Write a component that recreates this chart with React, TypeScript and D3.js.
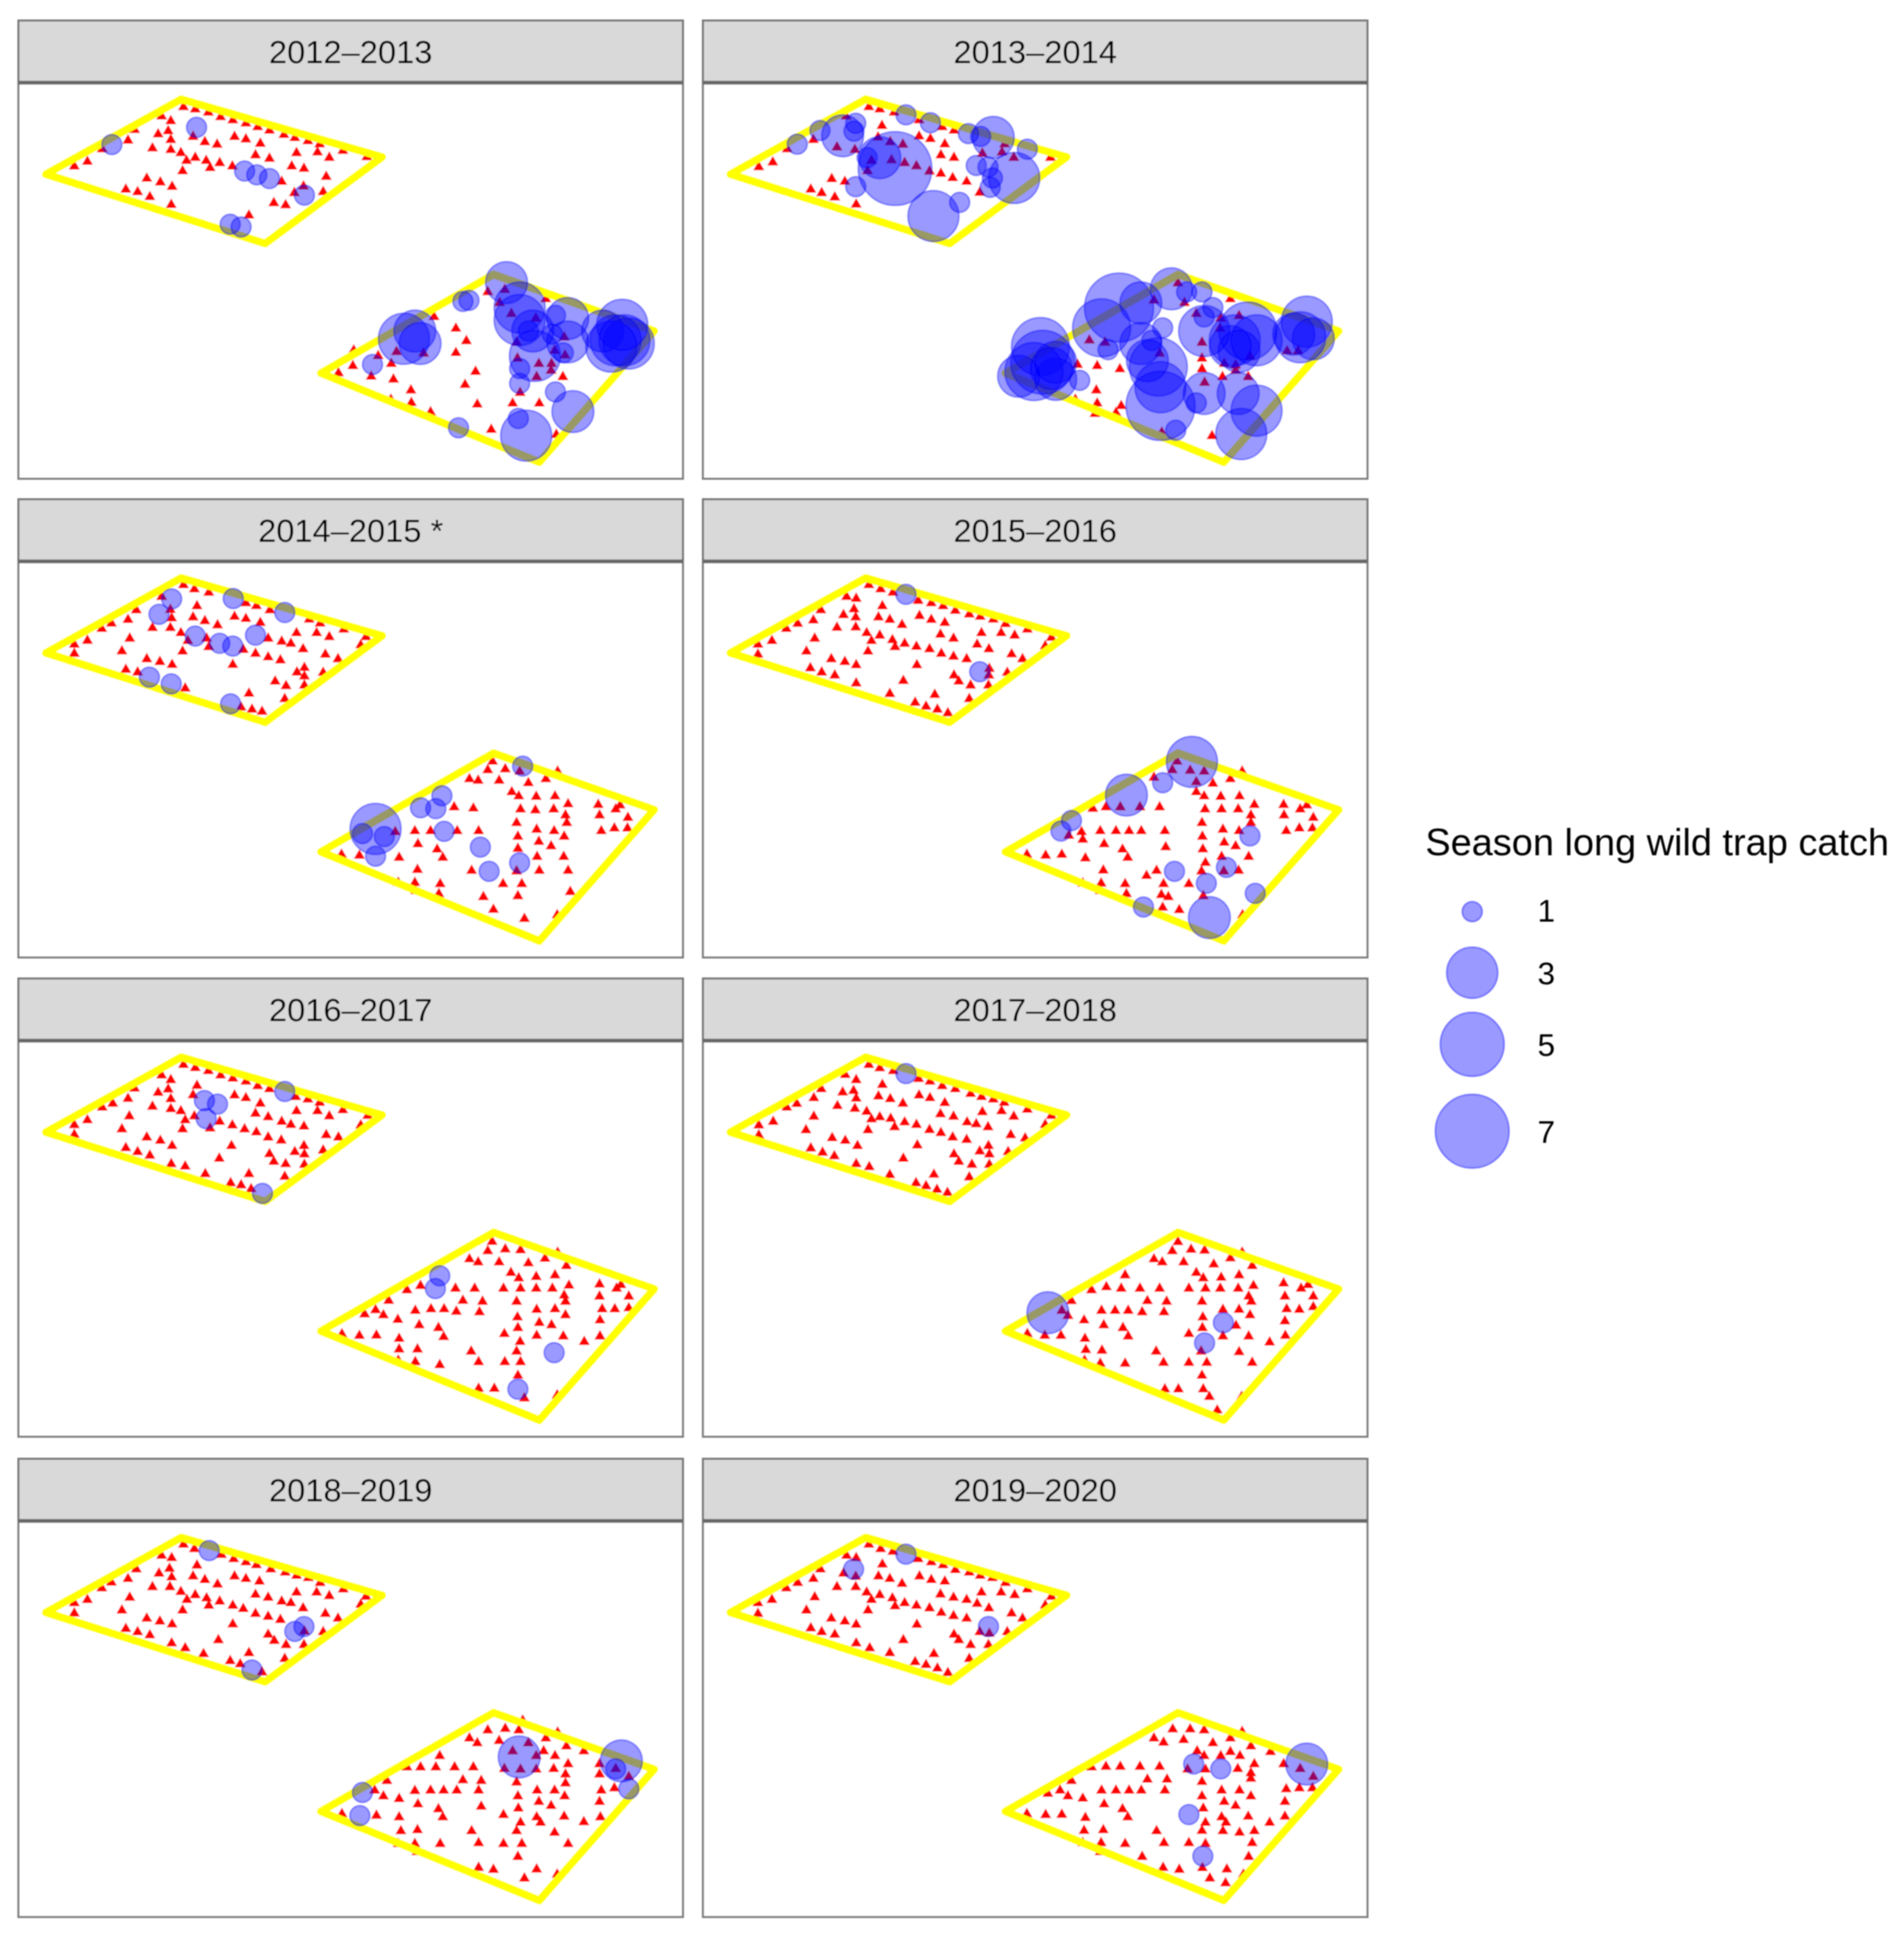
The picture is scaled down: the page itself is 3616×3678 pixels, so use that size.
import * as d3 from "d3";
import * as React from "react";

type Pt = [number, number];
type Catch = [number, number, number];

const seasons = ["2012–2013", "2013–2014", "2014–2015 *", "2015–2016", "2016–2017", "2017–2018", "2018–2019", "2019–2020"];
const legendValues = [1, 3, 5, 7];
const legendTitle = "Season long wild trap catch";

// field outlines, shared by every season
const fieldA: Pt[] = [[415, 318], [875, 503], [607, 780], [105, 558]];
const fieldB: Pt[] = [[735, 1195], [1130, 879], [1498, 1060], [1235, 1480]];

const traps2012: Pt[] = [[420,343],[447,350],[477,360],[505,375],[533,385],[563,395],[590,407],[617,418],[650,432],[675,442],[705,452],[732,462],[785,483],[840,503],[370,373],[391,388],[308,416],[385,420],[362,430],[442,438],[293,450],[391,448],[469,455],[497,463],[537,438],[563,446],[596,460],[234,478],[349,475],[391,480],[414,490],[447,505],[472,515],[503,522],[427,515],[532,533],[585,497],[617,508],[679,490],[727,488],[754,505],[668,533],[696,540],[170,533],[200,518],[418,548],[481,538],[645,582],[747,566],[336,572],[367,584],[394,598],[288,607],[315,615],[343,631],[392,656],[695,597],[674,618],[740,615],[627,650],[654,657],[570,690],
  [1117,935],[1156,928],[1144,970],[1250,958],[994,1015],[1171,1005],[1227,1020],[1044,1052],[1068,1092],[1292,1080],[1183,1097],[908,1127],[866,1140],[970,1132],[1044,1130],[1270,1123],[1294,1138],[810,1122],[1185,1148],[1263,1165],[1234,1165],[896,1165],[808,1172],[1262,1187],[775,1195],[1089,1190],[850,1206],[901,1215],[1229,1207],[1289,1207],[1065,1232],[941,1250],[1191,1258],[895,1280],[942,1290],[1093,1295],[1174,1292],[1235,1292],[986,1320],[1125,1376],[1274,1392]];
const catch2012: Catch[] = [[256,463,1],[450,408,1],[560,548,1],[588,560,1],[617,572,1],[697,625,1],[527,718,1],[552,727,1],
  [1160,905,2],[1190,985,3],[1190,1025,3],[1060,965,1],[1074,962,1],[925,1085,3],[950,1060,2],[962,1100,2],[853,1167,1],[1210,1060,1],[1272,1010,1],[1300,1020,2],[1225,1140,3],[1190,1180,1],[1190,1228,1],[1272,1255,1],[1312,1318,2],[1187,1340,1],[1205,1395,3],[1050,1370,1],[1425,1040,3],[1380,1060,2],[1410,1090,3],[1400,1110,3],[1440,1100,3],[1430,1090,3],[1265,1070,1],[1300,1095,2],[1220,1060,2],[1290,1130,1]];

const traps2013: Pt[] = [[422,343],[447,350],[480,360],[452,403],[537,385],[590,407],[617,418],[295,448],[537,437],[563,445],[596,462],[443,440],[471,455],[500,463],[349,472],[390,480],[235,478],[587,497],[617,505],[682,492],[727,488],[754,505],[733,462],[838,505],[170,535],[202,520],[428,515],[474,513],[504,522],[531,532],[419,548],[561,549],[587,556],[614,570],[646,582],[337,573],[367,582],[289,607],[314,618],[344,632],[393,655],[676,617],[370,373],
  [1130,907],[1075,962],[1145,970],[1250,958],[1172,1005],[1228,1020],[1270,1012],[1226,1052],[1185,1097],[927,1090],[963,1097],[1088,1132],[1185,1148],[1295,1142],[1380,1125],[1405,1125],[900,1168],[945,1172],[997,1182],[1236,1165],[1262,1170],[1185,1182],[1262,1187],[1232,1207],[1291,1207],[1191,1225],[943,1250],[895,1280],[945,1292],[1000,1300],[940,1325],[988,1322],[1208,1396],[1093,1385]];
const catch2013: Catch[] = [[258,462,1],[310,418,1],[362,435,2],[392,395,1],[388,420,1],[507,368,1],[563,393,1],[650,428,1],[678,437,1],[707,440,2],[785,478,1],[447,505,2],[418,505,1],[482,540,7],[392,598,1],[570,692,3],[630,648,1],[668,530,1],[695,535,1],[755,570,3],[705,570,1],[700,600,1],
  [995,985,6],[955,1050,4],[1045,970,2],[1115,925,2],[1150,935,1],[1185,935,1],[1095,1050,1],[1045,1100,2],[1070,1090,1],[1085,1175,4],[1060,1155,2],[970,1120,1],[1090,1240,3],[1090,1300,6],[1125,1378,1],[1172,1290,1],[1190,1260,2],[1268,1260,2],[1310,1315,3],[1275,1390,3],
  [1190,1060,3],[1190,1015,1],[1210,985,1],[1290,1060,4],[1260,1090,3],[1310,1090,3],[1250,1110,2],[1270,1125,2],[1425,1030,3],[1410,1080,3],[1395,1070,2],[1440,1085,2],
  [815,1110,4],[820,1160,5],[800,1190,4],[850,1160,2],[850,1215,2],[765,1205,2],[905,1218,1],[840,1180,2]];

const traps2014: Pt[] = [[420,333],[445,347],[478,358],[563,393],[587,402],[618,416],[370,372],[312,416],[390,415],[451,403],[293,448],[393,443],[442,440],[537,438],[563,445],[596,458],[255,460],[233,478],[349,475],[390,475],[469,452],[498,466],[708,447],[733,460],[787,480],[414,492],[679,492],[725,492],[754,505],[838,505],[297,510],[200,517],[430,518],[473,510],[478,538],[170,530],[170,560],[279,552],[418,553],[614,510],[645,520],[666,527],[694,545],[557,547],[585,560],[614,572],[642,582],[745,563],[774,578],[826,532],[336,578],[366,587],[394,597],[533,597],[288,613],[315,622],[697,607],[680,622],[697,635],[740,623],[630,652],[655,667],[697,665],[424,675],[570,692],[652,710],[552,738],[577,745],[600,752],
  [1128,917],[1117,945],[1157,942],[1190,950],[1277,950],[1075,975],[1095,980],[1143,980],[1210,988],[1250,975],[1172,1018],[1188,1032],[1228,1033],[1271,1032],[1040,1068],[1084,1072],[1192,1075],[1226,1078],[1268,1075],[1301,1058],[1370,1060],[1410,1075],[1420,1062],[1295,1095],[1373,1095],[1438,1103],[1183,1120],[1298,1120],[950,1147],[986,1147],[1047,1147],[1096,1147],[1229,1142],[1269,1147],[1377,1147],[1407,1138],[1437,1138],[905,1150],[1186,1165],[1292,1165],[1234,1182],[957,1190],[1001,1208],[1262,1197],[1186,1205],[914,1235],[1014,1235],[1230,1232],[1291,1232],[782,1225],[823,1228],[956,1275],[1080,1278],[1183,1280],[1235,1278],[1301,1278],[912,1318],[950,1318],[1008,1322],[1152,1322],[1195,1322],[952,1345],[1005,1355],[1107,1365],[1186,1362],[1306,1348],[1130,1407],[1201,1437],[1276,1425]];
const catch2014: Catch[] = [[393,379,1],[364,430,1],[534,378,1],[652,424,1],[447,502,1],[503,526,1],[533,535,1],[585,499,1],[342,638,1],[392,660,1],[528,726,1],
  [1197,932,1],[1012,1030,1],[963,1070,1],[998,1073,1],[860,1140,3],[830,1155,1],[880,1165,1],[860,1230,1],[1017,1148,1],[1100,1200,1],[1120,1280,1],[1190,1252,1]];

const traps2015: Pt[] = [[422,333],[449,347],[477,358],[535,385],[565,393],[592,403],[620,418],[652,430],[677,438],[707,447],[735,462],[785,480],[840,507],[371,372],[393,378],[453,403],[312,416],[388,413],[364,432],[392,440],[538,435],[444,440],[470,448],[295,450],[565,448],[596,458],[259,461],[498,465],[233,478],[349,474],[392,473],[417,492],[447,500],[586,497],[616,510],[680,492],[725,492],[756,500],[298,510],[200,518],[428,518],[476,515],[504,527],[482,538],[531,537],[168,530],[670,530],[697,545],[826,535],[279,553],[420,553],[561,545],[588,560],[616,570],[646,578],[749,562],[774,578],[168,563],[336,578],[367,587],[393,598],[532,598],[288,608],[314,622],[344,632],[698,610],[617,632],[628,652],[739,623],[697,632],[393,658],[501,650],[655,665],[696,665],[470,693],[573,696],[652,710],[528,722],[553,735],[579,745],[603,757],
  [1128,917],[1117,945],[1158,947],[1190,950],[1277,950],[1075,970],[1250,975],[1172,985],[1210,990],[1172,1018],[1190,1032],[1228,1033],[1271,1032],[1088,1068],[1192,1075],[1230,1075],[1268,1075],[1305,1060],[1372,1060],[1410,1075],[1425,1062],[965,1068],[998,1068],[1043,1068],[935,1073],[1297,1095],[1373,1095],[1440,1103],[1185,1120],[1297,1120],[952,1147],[988,1147],[1018,1147],[1046,1147],[1100,1147],[909,1150],[1233,1142],[1270,1147],[1378,1147],[1408,1138],[1438,1138],[880,1162],[912,1175],[1186,1165],[1236,1185],[1262,1197],[961,1190],[1003,1208],[1102,1200],[1187,1207],[784,1225],[827,1228],[864,1225],[918,1237],[1015,1235],[1230,1232],[1292,1232],[1193,1252],[959,1277],[1081,1278],[1058,1295],[1184,1280],[1235,1280],[1269,1278],[912,1320],[954,1320],[1009,1322],[1097,1322],[1155,1322],[952,1345],[1012,1355],[1188,1362],[1092,1358],[1108,1365],[1095,1400],[1133,1408],[1278,1425]];
const catch2015: Catch[] = [[507,364,1],[676,620,1],
  [1162,918,3],[1095,987,1],[1012,1028,2],[886,1112,1],[862,1147,1],[1295,1163,1],[1241,1267,1],[1122,1280,1],[1195,1320,1],[1307,1353,1],[1051,1398,1],[1202,1433,2]];

const traps2016: Pt[] = [[420,352],[447,362],[477,372],[505,387],[533,397],[563,407],[590,422],[617,432],[677,458],[705,466],[732,477],[785,502],[842,520],[370,387],[391,402],[308,430],[385,433],[362,444],[451,421],[442,452],[537,453],[563,462],[596,480],[258,480],[234,493],[293,464],[391,465],[349,490],[391,498],[414,505],[585,513],[614,525],[679,505],[727,505],[754,522],[296,522],[200,535],[445,522],[424,535],[503,540],[481,562],[532,552],[645,540],[666,550],[696,556],[170,551],[826,552],[279,565],[418,565],[560,565],[587,575],[614,592],[644,602],[747,584],[775,592],[170,583],[336,592],[367,603],[394,620],[530,620],[288,627],[315,640],[343,652],[696,620],[675,640],[697,648],[617,647],[740,635],[627,672],[654,680],[392,680],[424,688],[697,682],[502,662],[470,713],[570,713],[652,722],[528,743],[552,750],[575,763],
  [1127,937],[1117,968],[1157,962],[1192,965],[1277,973],[1075,995],[1095,1005],[1143,1005],[1248,993],[1210,1008],[1297,1017],[1170,1040],[1188,1058],[1228,1053],[1271,1048],[963,1083],[932,1097],[1043,1092],[1087,1092],[1153,1092],[1192,1092],[1228,1092],[1265,1092],[1303,1082],[1373,1078],[1412,1092],[1422,1080],[890,1132],[1292,1115],[1373,1118],[1440,1118],[1060,1132],[1105,1135],[1183,1135],[1295,1135],[860,1163],[835,1177],[878,1180],[951,1165],[987,1160],[1017,1160],[1045,1168],[1098,1170],[1229,1162],[1271,1160],[1379,1160],[1408,1160],[1440,1157],[911,1195],[1185,1187],[1295,1180],[1374,1197],[960,1213],[1004,1222],[1235,1205],[1263,1213],[1186,1222],[783,1243],[823,1248],[862,1247],[914,1258],[1016,1252],[1155,1242],[1229,1248],[1290,1250],[1338,1268],[1374,1250],[1191,1268],[914,1293],[956,1293],[1079,1300],[1183,1300],[951,1335],[1007,1345],[1096,1335],[1156,1335],[1192,1335],[912,1330],[1186,1380],[1096,1423],[1132,1423],[1201,1455],[1276,1445]];
const catch2016: Catch[] = [[652,440,1],[468,470,1],[498,482,1],[472,530,1],[601,777,1],
  [1007,1050,1],[997,1092,1],[1269,1304,1],[1186,1425,1]];

const traps2017: Pt[] = [[422,352],[447,363],[478,372],[536,398],[562,407],[590,422],[620,432],[655,448],[680,458],[707,466],[732,477],[785,500],[840,520],[368,385],[393,402],[313,432],[387,438],[362,443],[453,418],[296,462],[444,456],[393,463],[471,465],[537,453],[562,462],[596,478],[257,481],[234,493],[350,488],[390,497],[500,480],[417,507],[447,525],[472,530],[586,515],[616,523],[682,508],[726,505],[754,523],[296,523],[203,540],[428,532],[504,542],[481,558],[531,550],[647,542],[668,548],[695,558],[170,552],[826,550],[278,568],[420,568],[561,567],[587,577],[614,592],[646,600],[747,584],[780,595],[170,585],[338,594],[368,603],[396,620],[533,618],[289,628],[316,642],[343,654],[696,620],[676,638],[698,648],[617,648],[741,640],[628,672],[658,682],[393,680],[423,690],[698,682],[501,662],[470,716],[571,715],[652,724],[530,743],[553,753],[578,765],[602,775],
  [1130,938],[1117,968],[1160,963],[1191,966],[1277,973],[1075,995],[1094,1005],[1143,1005],[1250,992],[1212,1012],[1300,1017],[1009,1048],[1172,1040],[1188,1058],[1229,1056],[1270,1048],[966,1087],[932,1097],[1000,1092],[1043,1092],[1088,1092],[1155,1092],[1193,1092],[1227,1092],[1268,1092],[1303,1083],[1372,1075],[1412,1092],[1428,1080],[886,1133],[1292,1118],[1375,1118],[1440,1118],[1060,1133],[1104,1135],[1185,1135],[1298,1135],[955,1165],[986,1165],[1016,1165],[1048,1170],[1098,1170],[864,1165],[1233,1162],[1270,1162],[1379,1160],[1408,1162],[1440,1153],[878,1182],[915,1197],[1187,1187],[1295,1180],[1375,1200],[960,1213],[1004,1222],[1263,1215],[1186,1222],[785,1242],[825,1248],[862,1248],[917,1258],[1016,1250],[1155,1242],[1233,1250],[1292,1250],[1340,1270],[1376,1248],[919,1295],[956,1297],[1080,1300],[1183,1300],[1270,1302],[916,1330],[952,1340],[1009,1340],[1097,1337],[1155,1337],[1196,1337],[1300,1337],[1185,1380],[1100,1425],[1131,1425],[1188,1425],[1202,1450],[1220,1495],[1276,1450]];
const catch2017: Catch[] = [[507,381,1],[832,1172,2],[1234,1205,1],[1191,1272,1]];

const traps2018: Pt[] = [[420,348],[445,362],[507,380],[535,393],[563,403],[587,412],[620,425],[653,435],[679,445],[706,452],[733,467],[786,487],[838,510],[370,383],[393,390],[451,413],[312,425],[388,423],[364,438],[393,450],[442,447],[537,447],[563,455],[469,458],[293,455],[594,463],[498,472],[255,466],[233,484],[349,480],[389,480],[414,495],[447,505],[585,504],[614,513],[679,497],[725,497],[754,508],[297,513],[200,520],[428,520],[473,515],[503,525],[478,538],[533,538],[645,525],[666,530],[694,546],[170,530],[826,535],[279,553],[418,553],[557,548],[585,563],[614,572],[642,582],[745,563],[774,578],[170,562],[336,578],[366,587],[394,596],[533,596],[288,610],[315,620],[343,630],[697,618],[614,628],[628,647],[740,620],[393,655],[500,645],[655,660],[696,660],[424,670],[466,688],[570,685],[652,703],[527,710],[550,720],[600,745],
  [1117,925],[1157,920],[1188,925],[1197,895],[1277,932],[1075,950],[1093,965],[1143,958],[1250,950],[1210,965],[1297,975],[1337,990],[1174,990],[1007,1005],[1228,1005],[1271,1005],[1301,1030],[1245,990],[963,1040],[932,1040],[998,1040],[1041,1040],[1084,1040],[1155,1045],[1192,1047],[1228,1047],[1268,1045],[1373,1030],[1410,1045],[1440,1070],[886,1082],[1060,1080],[1102,1082],[1183,1087],[1295,1062],[1295,1090],[1373,1062],[858,1112],[878,1130],[950,1113],[986,1112],[1016,1112],[1046,1112],[1096,1112],[1230,1112],[1270,1112],[1377,1112],[1407,1105],[914,1138],[1186,1130],[1293,1130],[1234,1147],[1262,1160],[1373,1147],[957,1155],[1102,1162],[1187,1168],[1004,1170],[783,1185],[862,1190],[914,1195],[1014,1195],[1153,1188],[1229,1195],[1292,1193],[1337,1210],[1375,1195],[1192,1212],[1238,1212],[918,1238],[956,1235],[1080,1238],[1183,1238],[1270,1243],[912,1278],[950,1278],[1008,1278],[1096,1275],[1153,1278],[1195,1278],[1301,1278],[955,1303],[1186,1318],[1096,1352],[1130,1358],[1229,1357],[1201,1385],[1276,1373]];
const catch2018: Catch[] = [[479,367,1],[696,603,1],[675,618,1],[577,738,1],
  [1189,1008,2],[1423,1020,2],[1410,1045,1],[1440,1107,1],[830,1118,1],[824,1190,1]];

const traps2019: Pt[] = [[422,348],[449,362],[477,370],[535,393],[565,403],[592,412],[620,427],[652,435],[677,445],[705,452],[735,467],[785,487],[840,510],[371,383],[393,390],[453,410],[311,425],[364,438],[392,448],[538,447],[444,447],[470,455],[295,455],[565,458],[596,463],[259,467],[498,470],[233,484],[349,480],[392,480],[417,497],[447,505],[586,503],[616,513],[680,497],[725,497],[756,505],[298,512],[200,520],[428,520],[476,515],[504,530],[482,540],[531,538],[168,530],[646,520],[670,532],[697,546],[826,537],[279,553],[420,553],[561,546],[588,560],[616,570],[646,578],[749,562],[774,578],[168,563],[336,578],[367,587],[393,597],[532,597],[289,608],[314,620],[344,628],[676,620],[698,625],[617,628],[628,645],[739,620],[393,655],[501,645],[655,660],[696,660],[424,670],[470,685],[571,688],[652,703],[528,713],[553,722],[579,733],[603,747],
  [1118,922],[1158,922],[1190,925],[1277,930],[1075,950],[1097,963],[1143,955],[1250,950],[1210,965],[1297,975],[1342,992],[1174,990],[1190,1005],[1228,1005],[1250,992],[1272,1005],[1305,1030],[965,1038],[998,1038],[1043,1038],[932,1040],[1088,1038],[1152,1047],[1193,1047],[1267,1045],[1372,1030],[1410,1045],[1440,1070],[886,1082],[1060,1078],[1105,1078],[1185,1085],[1297,1075],[1297,1058],[860,1112],[832,1122],[878,1130],[955,1112],[988,1112],[1018,1112],[1046,1112],[1100,1112],[1230,1112],[1271,1112],[1378,1108],[1408,1105],[1438,1105],[912,1137],[1185,1130],[1297,1130],[1375,1147],[1236,1147],[1262,1160],[961,1155],[1188,1168],[1003,1170],[784,1185],[827,1188],[864,1187],[918,1197],[1015,1195],[1230,1195],[1291,1193],[1340,1212],[1375,1193],[1193,1212],[1240,1212],[915,1237],[959,1235],[1081,1238],[1185,1237],[1233,1238],[1271,1243],[1305,1238],[912,1275],[954,1275],[1009,1278],[1098,1275],[1155,1275],[1193,1278],[1300,1275],[952,1303],[1048,1318],[1292,1318],[1186,1353],[1096,1352],[1133,1358],[1242,1357],[1203,1385],[1239,1400],[1280,1373]];
const catch2019: Catch[] = [[507,378,1],[387,425,1],[696,603,1],
  [1166,1030,1],[1228,1045,1],[1155,1187,1],[1187,1316,1],[1425,1030,2]];

const allTraps = [traps2012, traps2013, traps2014, traps2015, traps2016, traps2017, traps2018, traps2019];
const allCatch = [catch2012, catch2013, catch2014, catch2015, catch2016, catch2017, catch2018, catch2019];

// the readings of each row of panels run over their own extent
const rowExtents: Pt[] = [[265, 1533], [255, 1565], [272, 1582], [275, 1505]];
const outlineExtent: Pt = [265, 1533];

const WIDTH = 3616;
const HEIGHT = 3678;
const panelW = 1262;
const panelH = 752;
const stripH = 118;
const colLeft = [35, 1335];
const rowTop = [157, 1066, 1976, 2888];
const font = "'Liberation Sans', Arial, sans-serif";

const x = d3.scaleLinear().domain([42, 1564]).range([0, panelW]);
const outlineY = d3.scaleLinear().domain(outlineExtent).range([0, panelH]);
// ggplot style size scale: area grows from the smallest value
const radius = d3.scaleSqrt().domain([0, 6]).range([19, 70]);
const triangle = d3.symbol().type(d3.symbolTriangle).size(190)() as string;
const outline = d3
  .line<Pt>()
  .x((d) => x(d[0]))
  .y((d) => outlineY(d[1]))
  .curve(d3.curveLinearClosed);

const Bubble = (props: { cx: number; cy: number; n: number }) => (
  <circle
    cx={props.cx}
    cy={props.cy}
    r={radius(props.n - 1)}
    fill="#0000ff"
    fillOpacity={0.4}
    stroke="#0000ff"
    strokeOpacity={0.4}
    strokeWidth={3}
  />
);

const Panel = (props: { index: number }) => {
  const { index } = props;
  const col = index % 2;
  const row = Math.floor(index / 2);
  const y = d3.scaleLinear().domain(rowExtents[row]).range([0, panelH]);
  return (
    <g transform={`translate(${colLeft[col]},${rowTop[row]})`}>
      <rect y={-stripH} width={panelW} height={stripH} fill="#d9d9d9" stroke="#7a7a7a" strokeWidth={4} />
      <rect width={panelW} height={panelH} fill="white" />
      <text
        x={panelW / 2}
        y={-stripH / 2 + 22}
        textAnchor="middle"
        fontFamily={font}
        fontSize={62}
        fill="#000000"
      >
        {seasons[index]}
      </text>
      {allTraps[index].map((d, i) => (
        <path key={i} d={triangle} transform={`translate(${x(d[0])},${y(d[1])})`} fill="#ff0000" />
      ))}
      {[fieldA, fieldB].map((f, i) => (
        <path key={i} d={outline(f) as string} fill="none" stroke="#ffff00" strokeWidth={15} strokeLinejoin="round" />
      ))}
      {allCatch[index].map((d, i) => (
        <Bubble key={i} cx={x(d[0])} cy={y(d[1])} n={d[2]} />
      ))}
      <rect width={panelW} height={panelH} fill="none" stroke="#7f7f7f" strokeWidth={4} />
      <line x1={0} x2={panelW} y1={0} y2={0} stroke="#666666" strokeWidth={7} />
    </g>
  );
};

const Legend = () => {
  const centers = [1731, 1847, 1983, 2148];
  const baselines = [1750, 1869, 2005, 2170];
  return (
    <g>
      <text x={2707} y={1624} fontFamily={font} fontSize={72} fill="#000000">
        {legendTitle}
      </text>
      {legendValues.map((v, i) => (
        <g key={v}>
          <Bubble cx={2796} cy={centers[i]} n={v} />
          <text x={2920} y={baselines[i]} fontFamily={font} fontSize={60} fill="#000000">
            {v}
          </text>
        </g>
      ))}
    </g>
  );
};

export default function App() {
  return (
    <svg
      width={WIDTH}
      height={HEIGHT}
      style={{ position: "absolute", left: 0, top: 0, background: "white" }}
    >
      <defs>
        {/* the reference is a soft, upscaled image */}
        <filter id="soft" filterUnits="userSpaceOnUse" x={0} y={0} width={WIDTH} height={HEIGHT}>
          <feGaussianBlur stdDeviation={1.2} />
        </filter>
      </defs>
      <g filter="url(#soft)">
        {seasons.map((s, i) => (
          <Panel key={s} index={i} />
        ))}
        <Legend />
      </g>
    </svg>
  );
}
